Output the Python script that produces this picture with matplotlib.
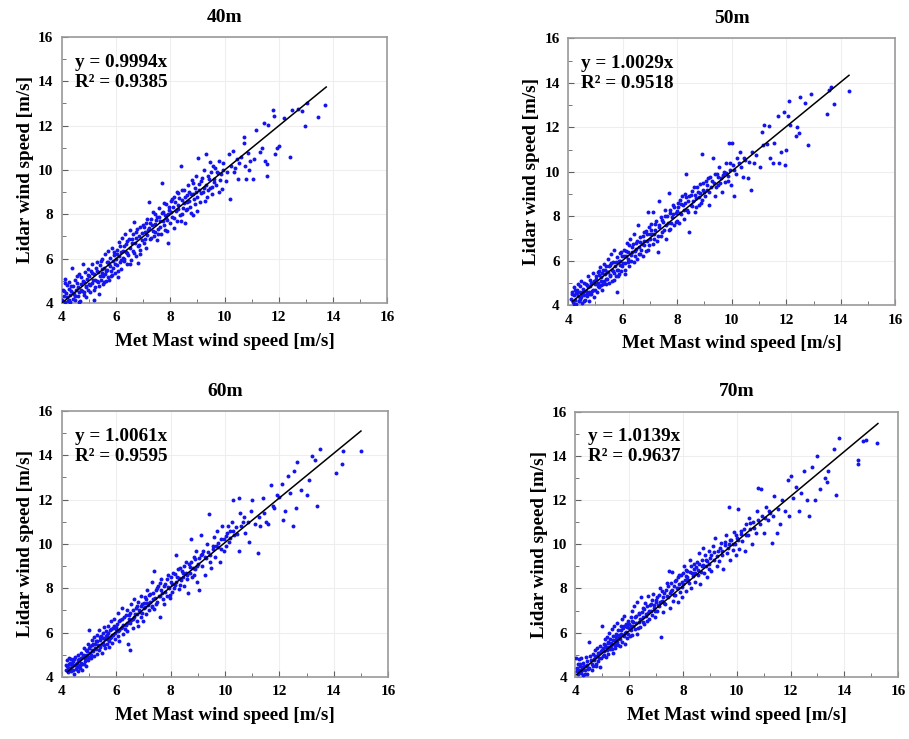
import matplotlib.pyplot as plt
from matplotlib.ticker import MultipleLocator

plt.rcParams['font.family'] = 'Liberation Serif'
plt.rcParams['font.weight'] = 'bold'

# panel titles and regression results
titles = ['40m', '50m', '60m', '70m']
slopes = [0.9994, 1.0029, 1.0061, 1.0139]
r2 = [0.9385, 0.9518, 0.9595, 0.9637]
line_start = [4.0, 4.15, 4.2, 4.05]
line_end = [13.75, 14.3, 15.0, 15.25]

# points (met mast, lidar)
pts40 = [
    (4.02,4.15),(4.05,4.6),(4.08,4.3),(4.1,5.1),(4.12,4.05),(4.15,4.45),(4.18,4.8),(4.2,4.25),(4.22,4.1),(4.25,4.65),
    (4.28,4.95),(4.3,4.35),(4.32,4.05),(4.35,4.55),(4.38,5.6),(4.4,4.2),(4.42,4.75),(4.45,4.4),(4.48,5.05),(4.5,4.15),
    (4.52,4.6),(4.55,4.9),(4.58,4.3),(4.6,4.7),(4.62,5.3),(4.65,4.5),(4.68,4.1),(4.7,4.85),(4.72,5.15),(4.75,4.55),
    (4.78,5.75),(4.8,4.35),(4.82,4.95),(4.85,5.4),(4.88,4.7),(4.9,4.25),(4.92,5.1),(4.95,4.6),(4.97,5.55),(4.99,4.85),
    (5.02,5.2),(5.05,4.5),(5.08,5.45),(5.1,4.9),(5.12,5.75),(5.15,5.05),(5.18,4.15),(5.2,5.3),(5.22,4.7),(5.25,5.6),
    (5.28,5.0),(5.3,5.85),(5.32,4.95),(5.35,5.4),(5.38,4.4),(5.4,5.2),(5.42,5.7),(5.45,5.05),(5.48,6.0),(5.5,5.35),
    (5.52,4.85),(5.55,5.6),(5.58,6.2),(5.6,5.3),(5.62,5.0),(5.65,5.85),(5.68,5.5),(5.7,6.35),(5.72,5.15),(5.75,5.75),
    (5.78,6.05),(5.8,5.45),(5.82,5.2),(5.85,6.5),(5.88,5.9),(5.9,5.6),(5.92,6.15),(5.95,5.35),(5.98,6.0),
    (6.02,5.7),(6.05,6.4),(6.08,5.15),(6.1,6.1),(6.12,6.75),(6.15,5.85),(6.18,6.3),(6.2,5.55),(6.22,6.95),(6.25,6.05),
    (6.28,6.55),(6.3,5.9),(6.32,7.1),(6.35,6.3),(6.4,5.75),(6.42,6.8),(6.45,6.15),(6.5,7.3),(6.52,6.5),(6.55,5.95),
    (6.6,6.9),(6.62,6.35),(6.65,7.65),(6.7,6.7),(6.72,6.1),(6.75,7.2),(6.8,6.55),(6.82,5.8),(6.85,7.0),(6.88,7.45),
    (6.9,6.4),(6.95,6.85),(6.98,7.5),
    (7.02,6.7),(7.05,7.2),(7.1,7.6),(7.12,6.5),(7.15,7.05),(7.2,8.55),(7.22,7.4),(7.25,6.9),(7.3,7.8),(7.35,7.25),
    (7.4,7.0),(7.42,8.0),(7.45,7.55),(7.5,6.85),(7.52,7.9),(7.55,7.35),(7.6,8.3),(7.62,7.7),(7.65,7.1),(7.7,9.4),
    (7.72,8.1),(7.75,7.5),(7.8,7.95),(7.82,7.3),(7.85,8.45),(7.88,7.75),(7.9,6.7),(7.95,8.2),(7.98,7.6),
    (8.02,8.6),(8.05,7.9),(8.1,8.35),(8.12,7.4),(8.15,8.8),(8.2,8.15),(8.25,7.7),(8.28,8.95),(8.3,8.4),(8.35,7.95),
    (8.4,10.2),(8.42,8.65),(8.45,8.0),(8.5,9.1),(8.52,8.5),(8.55,7.6),(8.6,8.85),(8.62,8.25),(8.65,9.3),(8.7,8.6),
    (8.75,8.05),(8.8,9.55),(8.82,8.9),(8.85,7.95),(8.9,9.2),(8.92,8.45),(8.95,9.75),(8.98,8.8),
    (9.02,10.55),(9.05,9.1),(9.1,8.55),(9.12,9.5),(9.2,9.0),(9.25,10.0),(9.3,10.7),(9.32,9.3),(9.35,8.8),(9.4,9.75),
    (9.45,10.35),(9.48,9.2),(9.5,9.9),(9.55,8.9),(9.6,9.6),(9.65,10.1),(9.7,9.3),(9.75,9.85),(9.8,10.4),(9.85,9.55),
    (9.9,9.15),(9.95,10.0),
    (10.05,9.5),(10.15,10.7),(10.2,8.7),(10.25,10.2),(10.3,10.85),(10.35,9.9),(10.45,10.5),(10.5,9.6),(10.6,10.6),
    (10.7,11.5),(10.72,11.2),(10.75,10.2),(10.8,9.6),(10.85,10.75),(10.95,10.4),
    (11.05,9.6),(11.1,10.5),(11.15,11.8),(11.3,10.8),(11.4,11.0),(11.45,12.1),(11.5,10.4),(11.55,9.75),(11.55,10.25),
    (11.6,12.05),(11.8,12.7),(11.82,12.45),(11.85,10.7),(11.95,11.0),(12.0,11.1),
    (12.2,12.35),(12.4,10.6),(12.5,12.7),(12.7,12.75),(12.85,12.65),(12.95,12.0),(13.05,13.0),(13.45,12.4),(13.7,12.95),
]
more40 = [
    (4.07,4.55),(4.13,4.9),(4.27,4.15),(4.33,4.75),(4.41,4.45),(4.47,4.3),(4.56,5.2),(4.63,4.05),(4.69,4.6),(4.77,5.0),
    (4.83,4.5),(4.91,4.75),(4.96,5.25),(5.04,4.8),(5.11,5.35),(5.17,4.6),(5.23,5.05),(5.29,5.45),(5.36,4.75),(5.43,5.9),
    (5.47,5.55),(5.53,5.2),(5.57,4.95),(5.63,5.45),(5.69,5.85),(5.74,5.05),(5.79,5.65),(5.86,5.25),(5.91,6.3),(5.97,5.75),
    (6.03,6.2),(6.07,5.45),(6.13,6.55),(6.19,5.95),(6.24,6.35),(6.29,6.0),(6.36,6.65),(6.41,6.25),(6.47,6.9),(6.53,5.75),
    (6.58,6.7),(6.63,7.1),(6.68,6.25),(6.73,6.95),(6.79,7.35),(6.84,6.6),(6.89,6.2),(6.94,7.15),(7.03,7.45),(7.08,6.9),
    (7.13,7.8),(7.18,7.3),(7.24,7.6),(7.28,6.95),(7.33,7.5),(7.38,8.1),(7.44,7.2),(7.48,7.75),(7.53,7.1),(7.58,7.9),
    (7.63,7.45),(7.68,8.05),(7.73,7.7),(7.78,8.5),(7.83,7.85),(7.87,7.25),(7.93,8.0),(7.97,8.35),(8.03,8.1),(8.08,8.7),
    (8.13,7.85),(8.18,8.55),(8.23,9.0),(8.27,8.25),(8.33,8.75),(8.38,7.7),(8.43,9.1),(8.48,8.3),(8.53,8.8),(8.58,8.2),
    (8.63,8.55),(8.68,9.0),(8.73,8.35),(8.78,8.9),(8.83,9.4),(8.88,8.7),(8.93,9.0),(8.97,8.15),(9.07,9.35),(9.13,8.95),
    (9.18,9.65),(9.23,9.2),(9.28,8.6),(9.38,9.1),(9.43,9.6),(9.53,9.25),(9.58,10.2),(9.63,9.45),(9.73,9.9),(9.78,9.0),
    (9.88,9.8),(9.93,10.3),(10.1,9.9),(10.4,10.1),(10.55,10.3),(10.9,10.0),
]

pts50 = [
    (4.12,4.3),(4.15,4.6),(4.18,4.15),(4.2,4.45),(4.22,4.8),(4.25,4.25),(4.28,4.55),(4.3,4.05),(4.32,4.7),(4.35,4.4),
    (4.38,4.95),(4.4,4.2),(4.42,4.6),(4.45,4.3),(4.48,5.1),(4.5,4.5),(4.52,4.1),(4.55,4.75),(4.58,4.45),(4.6,5.0),
    (4.62,4.25),(4.65,4.65),(4.68,4.9),(4.7,4.4),(4.72,5.3),(4.75,4.6),(4.78,4.2),(4.8,4.85),(4.82,5.15),(4.85,4.5),
    (4.88,5.0),(4.9,4.7),(4.92,5.45),(4.95,4.35),(4.98,4.95),
    (5.02,5.2),(5.05,4.6),(5.08,5.5),(5.1,5.0),(5.12,4.8),(5.15,5.35),(5.18,5.7),(5.2,4.9),(5.22,5.25),(5.25,4.7),
    (5.28,5.6),(5.3,5.1),(5.32,5.85),(5.35,5.4),(5.38,4.95),(5.4,5.75),(5.42,5.2),(5.45,6.1),(5.48,5.5),(5.5,5.0),
    (5.52,5.8),(5.55,5.35),(5.58,6.3),(5.6,5.6),(5.62,5.1),(5.65,5.95),(5.68,5.45),(5.7,6.5),(5.72,5.75),(5.75,5.3),
    (5.78,6.15),(5.8,4.6),(5.82,5.6),(5.85,6.0),(5.88,5.4),(5.9,6.35),(5.92,5.8),(5.95,5.55),(5.98,6.2),
    (6.02,5.9),(6.05,6.5),(6.08,5.6),(6.1,5.4),(6.12,6.2),(6.15,6.8),(6.18,5.95),(6.2,6.4),(6.25,5.75),(6.28,7.0),
    (6.3,6.25),(6.35,6.6),(6.4,5.95),(6.42,7.2),(6.45,6.45),(6.5,6.8),(6.52,6.1),(6.55,7.6),(6.6,6.6),(6.62,6.3),
    (6.65,7.05),(6.7,6.75),(6.75,6.2),(6.78,7.3),(6.8,6.9),(6.85,6.45),(6.9,7.2),(6.92,8.2),(6.95,6.7),(6.98,7.5),
    (7.02,7.0),(7.05,7.4),(7.1,6.75),(7.12,8.2),(7.15,7.2),(7.2,7.65),(7.25,6.9),(7.3,6.4),(7.32,7.5),(7.35,8.7),
    (7.4,7.1),(7.45,7.85),(7.5,7.4),(7.55,8.0),(7.6,7.0),(7.65,7.7),(7.7,9.05),(7.72,8.3),(7.75,7.45),(7.8,7.95),
    (7.85,8.5),(7.9,7.6),(7.95,8.15),(7.98,7.8),
    (8.02,8.4),(8.05,7.7),(8.1,8.75),(8.15,8.1),(8.2,8.5),(8.25,7.9),(8.3,9.0),(8.32,9.9),(8.35,8.3),(8.4,8.7),
    (8.45,7.3),(8.5,8.95),(8.55,8.45),(8.6,9.3),(8.65,8.2),(8.7,8.8),(8.75,9.1),(8.8,8.5),(8.85,9.45),(8.9,10.8),
    (8.92,8.75),(8.95,9.2),
    (9.02,8.9),(9.05,9.6),(9.1,9.2),(9.15,8.5),(9.2,9.75),(9.25,9.3),(9.3,10.6),(9.35,9.5),(9.4,8.9),(9.45,9.9),
    (9.5,9.4),(9.55,10.2),(9.6,9.7),(9.65,9.1),(9.7,10.0),(9.75,9.55),(9.8,10.4),(9.85,9.8),(9.9,11.3),(9.95,10.1),
    (9.98,9.4),
    (10.02,11.3),(10.05,10.3),(10.1,8.9),(10.15,9.9),(10.2,10.6),(10.3,10.9),(10.35,10.2),(10.4,9.75),(10.5,10.55),
    (10.6,9.7),(10.7,9.2),(10.75,10.9),(10.8,10.4),(10.9,10.75),
    (11.05,10.2),(11.1,11.8),(11.15,11.2),(11.2,12.1),(11.3,11.25),(11.35,12.05),(11.4,10.6),(11.5,10.4),(11.55,11.3),
    (11.7,12.5),(11.75,10.4),(11.8,10.9),(11.9,12.7),(11.95,10.3),(12.0,11.0),
    (12.05,12.5),(12.1,13.2),(12.15,12.1),(12.35,11.6),(12.4,12.0),(12.45,11.75),(12.5,13.35),(12.7,13.1),(12.8,11.2),
    (12.9,13.5),(13.5,12.6),(13.55,13.7),(13.65,13.8),(13.75,13.05),(14.3,13.65),
]
more50 = [
    (4.14,4.5),(4.23,4.05),(4.27,4.7),(4.34,4.55),(4.39,4.2),(4.44,4.85),(4.49,4.35),(4.54,4.6),(4.59,4.2),(4.64,4.95),
    (4.69,4.55),(4.74,4.8),(4.79,4.5),(4.84,5.0),(4.89,4.65),(4.94,5.1),(4.99,4.7),(5.04,5.3),(5.09,4.85),(5.14,5.55),
    (5.19,5.1),(5.24,5.45),(5.29,4.95),(5.34,5.6),(5.39,5.2),(5.44,5.5),(5.49,5.75),(5.54,5.3),(5.59,5.9),(5.64,5.55),
    (5.69,5.15),(5.74,5.95),(5.79,5.6),(5.84,5.3),(5.89,6.0),(5.94,6.4),(5.99,5.75),(6.04,6.2),(6.09,5.9),(6.14,6.45),
    (6.19,6.1),(6.24,6.7),(6.29,6.0),(6.34,6.4),(6.39,6.75),(6.44,6.2),(6.49,6.55),(6.54,6.9),(6.59,6.3),(6.64,6.85),
    (6.69,6.5),(6.74,7.1),(6.79,6.7),(6.84,7.35),(6.89,6.9),(6.94,6.5),(6.99,7.2),(7.04,7.65),(7.09,7.2),(7.14,7.0),
    (7.19,7.4),(7.24,7.8),(7.29,7.1),(7.34,7.6),(7.39,7.95),(7.44,7.3),(7.49,7.75),(7.54,8.3),(7.59,7.6),(7.64,8.0),
    (7.69,7.4),(7.74,8.15),(7.79,7.7),(7.84,8.1),(7.89,8.4),(7.94,7.75),(7.99,8.25),(8.04,8.6),(8.09,8.15),(8.14,8.55),
    (8.19,8.9),(8.24,8.3),(8.29,8.6),(8.34,8.85),(8.39,8.2),(8.44,8.9),(8.49,8.5),(8.54,9.15),(8.59,8.7),(8.64,8.95),
    (8.69,8.4),(8.74,9.3),(8.79,8.85),(8.84,9.05),(8.89,8.6),(8.94,9.5),(8.99,9.1),(9.08,9.4),(9.13,9.7),(9.18,9.1),
    (9.28,9.6),(9.38,9.9),(9.43,9.3),(9.48,9.75),(9.58,9.5),(9.68,9.85),(9.78,9.95),(9.88,9.6),(9.93,10.4),(10.08,10.1),
    (10.25,10.4),(10.45,10.6),(10.65,10.45),
]

pts60 = [
    (4.15,4.3),(4.18,4.75),(4.2,4.5),(4.22,4.2),(4.25,4.85),(4.28,4.4),(4.3,4.65),(4.32,4.25),(4.35,4.8),(4.38,4.5),
    (4.4,4.3),(4.42,4.7),(4.45,4.15),(4.48,4.55),(4.5,4.9),(4.52,4.35),(4.55,4.65),(4.58,4.25),(4.6,5.0),(4.62,4.5),
    (4.65,4.8),(4.68,4.4),(4.7,5.1),(4.72,4.65),(4.75,4.3),(4.78,4.95),(4.8,5.3),(4.82,4.6),(4.85,4.85),(4.88,5.2),
    (4.9,4.5),(4.92,5.0),(4.95,5.5),(4.98,4.75),
    (5.0,6.1),(5.02,5.1),(5.05,5.4),(5.08,4.85),(5.1,5.65),(5.12,5.2),(5.15,5.5),(5.18,4.95),(5.2,5.8),(5.22,5.3),
    (5.25,5.6),(5.28,5.05),(5.3,5.9),(5.32,5.45),(5.35,5.2),(5.38,6.1),(5.4,5.65),(5.42,5.35),(5.45,5.85),(5.48,5.1),
    (5.5,6.0),(5.52,5.55),(5.55,6.25),(5.58,5.7),(5.6,5.3),(5.62,6.05),(5.65,5.5),(5.68,5.9),(5.7,6.3),(5.72,5.6),
    (5.75,5.35),(5.78,6.1),(5.8,5.8),(5.82,6.5),(5.85,5.55),(5.88,6.2),(5.9,5.9),(5.92,6.6),(5.95,5.7),(5.98,6.15),
    (6.02,6.4),(6.05,5.85),(6.08,6.9),(6.1,6.1),(6.12,5.6),(6.15,6.55),(6.2,6.25),(6.22,7.1),(6.25,5.95),(6.3,6.7),
    (6.35,6.35),(6.38,7.0),(6.4,6.05),(6.45,5.5),(6.48,6.8),(6.5,5.2),(6.52,6.45),(6.55,7.3),(6.6,6.6),(6.62,6.2),
    (6.65,7.5),(6.7,6.85),(6.75,6.5),(6.78,7.2),(6.8,6.3),(6.85,7.0),(6.9,7.65),(6.92,6.7),(6.95,7.3),(6.98,6.5),
    (7.02,7.1),(7.05,7.6),(7.1,6.85),(7.12,7.9),(7.15,7.35),(7.2,7.0),(7.25,7.75),(7.3,7.2),(7.32,8.3),(7.35,7.5),
    (7.38,8.8),(7.4,7.05),(7.45,7.9),(7.5,7.4),(7.55,8.1),(7.6,6.7),(7.62,7.65),(7.65,8.4),(7.7,7.8),(7.75,7.3),
    (7.8,8.2),(7.85,7.65),(7.9,8.6),(7.95,8.0),(7.98,7.55),
    (8.02,8.3),(8.05,7.85),(8.1,8.7),(8.15,8.15),(8.2,9.5),(8.25,8.5),(8.3,7.95),(8.35,8.9),(8.4,8.35),(8.45,8.7),
    (8.5,8.1),(8.55,9.2),(8.6,8.6),(8.65,7.8),(8.7,8.95),(8.75,10.2),(8.8,8.5),(8.85,9.4),(8.9,8.85),(8.95,9.7),
    (8.98,8.3),
    (9.02,9.1),(9.05,7.9),(9.1,9.5),(9.12,10.4),(9.15,9.0),(9.2,9.7),(9.25,8.6),(9.3,9.35),(9.35,10.0),(9.4,11.35),
    (9.45,9.5),(9.5,8.9),(9.55,9.9),(9.6,10.3),(9.65,9.4),(9.7,10.6),(9.75,9.85),(9.8,9.2),(9.85,10.2),(9.9,10.8),
    (9.95,9.7),
    (10.02,10.35),(10.05,9.9),(10.1,10.8),(10.15,10.1),(10.2,10.6),(10.25,11.0),(10.3,12.0),(10.35,10.4),(10.4,10.75),
    (10.5,9.7),(10.52,12.05),(10.55,11.4),(10.6,10.8),(10.7,11.2),(10.75,10.5),(10.85,11.0),(10.9,10.1),(10.95,11.5),
    (11.0,12.0),(11.1,10.9),(11.2,9.6),(11.25,11.2),(11.3,10.8),(11.4,12.05),(11.45,11.4),(11.5,11.0),(11.6,10.9),
    (11.7,12.65),(11.75,11.7),(11.8,11.6),(11.9,12.2),(12.0,12.1),
    (12.1,12.7),(12.15,11.1),(12.2,11.5),(12.3,13.05),(12.4,12.3),(12.5,10.8),(12.55,13.3),(12.6,11.6),(12.65,13.7),
    (12.8,12.45),(13.0,12.2),(13.1,12.9),(13.2,13.95),(13.3,13.8),(13.4,11.7),(13.5,14.3),(14.1,13.2),(14.3,13.6),
    (14.35,14.2),(15.0,14.2),
]
more60 = [
    (4.16,4.55),(4.21,4.35),(4.26,4.6),(4.31,4.4),(4.36,4.6),(4.41,4.55),(4.46,4.8),(4.51,4.6),(4.56,4.45),(4.61,4.75),
    (4.66,4.55),(4.71,4.85),(4.76,4.6),(4.81,5.0),(4.86,4.7),(4.91,5.15),(4.96,4.9),(5.01,5.3),(5.06,5.0),(5.11,5.45),
    (5.16,5.15),(5.21,5.5),(5.26,5.25),(5.31,5.6),(5.36,5.4),(5.41,5.8),(5.46,5.5),(5.51,5.75),(5.56,5.45),(5.61,5.85),
    (5.66,5.7),(5.71,6.0),(5.76,5.75),(5.81,6.15),(5.86,5.9),(5.91,6.3),(5.96,6.0),(6.01,6.25),(6.06,6.05),(6.11,6.5),
    (6.16,6.2),(6.21,6.6),(6.26,6.35),(6.31,6.15),(6.36,6.8),(6.41,6.45),(6.46,6.6),(6.51,6.9),(6.56,6.55),(6.61,7.0),
    (6.66,6.7),(6.71,7.1),(6.76,6.85),(6.81,7.4),(6.86,6.95),(6.91,7.2),(6.96,6.9),(7.01,7.35),(7.06,7.15),(7.11,7.5),
    (7.16,7.25),(7.21,7.7),(7.26,7.4),(7.31,7.15),(7.36,7.8),(7.41,7.55),(7.46,7.3),(7.51,8.0),(7.56,7.65),(7.61,8.25),
    (7.66,7.9),(7.71,7.5),(7.76,8.1),(7.81,7.85),(7.86,8.4),(7.91,8.05),(7.96,7.7),(8.01,8.5),(8.06,8.2),(8.11,8.0),
    (8.16,8.65),(8.21,8.3),(8.26,8.85),(8.31,8.45),(8.36,8.15),(8.41,8.8),(8.46,8.5),(8.51,9.0),(8.56,8.7),(8.61,8.4),
    (8.66,9.1),(8.71,8.7),(8.76,9.2),(8.81,8.9),(8.86,8.6),(8.91,9.3),(8.96,9.0),(9.06,9.35),(9.16,9.55),(9.26,9.4),
    (9.36,9.65),(9.46,9.2),(9.56,9.75),(9.66,9.9),(9.76,10.05),(9.86,9.75),(9.96,10.2),(10.06,10.5),(10.18,10.25),
    (10.28,10.6),(10.45,10.45),(10.65,11.0),
]

pts70 = [
    (4.02,4.85),(4.05,4.4),(4.08,4.15),(4.1,4.6),(4.12,4.3),(4.15,4.8),(4.18,4.5),(4.2,4.2),(4.22,4.85),(4.25,4.45),
    (4.28,4.1),(4.3,4.65),(4.35,4.3),(4.38,4.9),(4.4,4.5),(4.42,4.15),(4.45,4.7),(4.5,5.6),(4.52,4.4),(4.55,4.95),
    (4.6,4.6),(4.62,4.3),(4.65,5.05),(4.7,4.75),(4.72,5.2),(4.75,4.5),(4.8,4.95),(4.82,5.3),(4.85,4.7),(4.88,5.1),
    (4.9,4.45),(4.92,5.4),(4.95,4.85),(4.98,5.2),
    (5.0,6.3),(5.02,4.95),(5.05,5.5),(5.08,5.15),(5.1,5.7),(5.12,4.9),(5.15,5.35),(5.18,5.8),(5.2,5.05),(5.22,5.55),
    (5.25,6.0),(5.28,5.25),(5.3,5.7),(5.32,5.4),(5.35,6.15),(5.38,5.1),(5.4,5.85),(5.42,5.5),(5.45,6.3),(5.48,5.3),
    (5.5,5.95),(5.52,5.65),(5.55,6.45),(5.58,5.45),(5.6,6.1),(5.62,5.8),(5.65,5.4),(5.68,6.3),(5.7,5.95),(5.72,6.6),
    (5.75,5.6),(5.78,6.2),(5.8,5.85),(5.82,6.75),(5.85,5.5),(5.88,6.4),(5.9,6.05),(5.92,5.75),(5.95,6.55),(5.98,6.2),
    (6.02,5.85),(6.05,6.7),(6.08,6.3),(6.1,7.0),(6.12,5.9),(6.15,6.5),(6.18,7.2),(6.2,6.15),(6.25,6.75),(6.28,5.95),
    (6.3,7.4),(6.35,6.5),(6.38,6.9),(6.4,6.25),(6.45,7.6),(6.5,6.7),(6.52,7.1),(6.55,6.4),(6.6,7.35),(6.62,6.85),
    (6.65,6.55),(6.7,7.65),(6.72,7.0),(6.75,6.6),(6.8,7.3),(6.85,6.8),(6.9,7.75),(6.92,7.1),(6.95,6.7),(6.98,7.4),
    (7.02,7.0),(7.05,7.6),(7.1,7.2),(7.15,8.0),(7.2,5.8),(7.22,7.45),(7.25,6.95),(7.3,7.8),(7.35,7.3),(7.4,8.25),
    (7.45,7.6),(7.48,8.8),(7.5,7.1),(7.55,7.9),(7.6,8.75),(7.62,7.45),(7.65,8.1),(7.7,7.7),(7.75,8.4),(7.8,7.4),
    (7.82,8.0),(7.85,8.6),(7.9,7.85),(7.95,8.3),(7.98,7.6),
    (8.02,8.2),(8.05,9.0),(8.1,8.55),(8.12,7.9),(8.15,8.8),(8.2,8.4),(8.25,9.3),(8.3,8.0),(8.35,8.7),(8.4,9.1),
    (8.45,8.3),(8.5,8.95),(8.55,8.6),(8.6,9.6),(8.65,8.2),(8.7,9.0),(8.75,9.85),(8.8,8.7),(8.85,9.3),(8.9,8.5),
    (8.95,9.7),(8.98,9.1),
    (9.02,9.4),(9.05,8.8),(9.1,9.9),(9.15,9.3),(9.2,10.3),(9.25,9.0),(9.3,9.7),(9.35,9.25),(9.4,10.05),(9.45,9.5),
    (9.5,8.9),(9.55,9.95),(9.6,10.4),(9.65,9.6),(9.7,11.7),(9.72,10.0),(9.75,9.3),(9.8,10.2),(9.85,9.75),(9.9,10.55),
    (9.95,10.0),(9.98,9.5),
    (10.02,10.3),(10.05,11.6),(10.1,9.8),(10.15,10.6),(10.2,10.15),(10.3,9.7),(10.35,10.9),(10.4,10.4),(10.45,11.2),
    (10.5,10.7),(10.55,10.0),(10.6,11.0),(10.7,10.5),(10.75,11.5),(10.8,12.55),(10.85,10.9),(10.92,12.5),(10.95,11.3),
    (11.0,10.5),(11.1,11.7),(11.15,11.1),(11.2,11.5),(11.3,10.05),(11.35,11.3),(11.4,12.2),(11.5,10.5),(11.55,11.6),
    (11.6,10.9),(11.7,12.0),(11.8,11.5),(11.9,12.9),(11.95,11.3),
    (12.0,13.1),(12.1,12.1),(12.2,12.6),(12.3,11.5),(12.4,12.3),(12.5,13.3),(12.6,12.0),(12.7,11.3),(12.8,13.5),
    (12.9,12.0),(13.0,14.0),(13.1,12.5),(13.3,13.0),(13.35,12.8),(13.4,13.3),(13.6,14.3),(13.7,12.25),(13.8,14.8),
    (14.5,13.8),(14.52,13.65),(14.7,14.65),(14.8,14.7),(15.2,14.6),
]
more70 = [
    (4.06,4.25),(4.16,4.6),(4.24,4.3),(4.32,4.5),(4.37,4.15),(4.44,4.55),(4.48,4.35),(4.57,4.75),(4.64,4.5),(4.68,4.8),
    (4.74,4.95),(4.78,4.6),(4.84,5.1),(4.89,4.85),(4.94,5.15),(5.01,5.3),(5.06,5.0),(5.11,5.45),(5.16,5.2),(5.21,5.6),
    (5.26,5.35),(5.31,5.55),(5.36,5.25),(5.41,5.65),(5.46,5.45),(5.51,5.8),(5.56,5.6),(5.61,5.9),(5.66,5.7),(5.71,6.1),
    (5.76,5.9),(5.81,6.3),(5.86,6.0),(5.91,6.25),(5.96,5.95),(6.01,6.4),(6.06,6.1),(6.11,6.55),(6.16,6.3),(6.21,6.7),
    (6.26,6.45),(6.31,6.2),(6.36,6.85),(6.41,6.6),(6.46,6.95),(6.51,6.5),(6.56,7.05),(6.61,6.75),(6.66,7.2),(6.71,6.9),
    (6.76,7.25),(6.81,7.0),(6.86,7.5),(6.91,7.25),(6.96,7.0),(7.01,7.5),(7.06,7.25),(7.11,7.7),(7.16,7.4),(7.21,7.9),
    (7.26,7.6),(7.31,7.35),(7.36,7.95),(7.41,7.65),(7.46,8.1),(7.51,7.8),(7.56,8.25),(7.61,7.95),(7.66,7.7),(7.71,8.35),
    (7.76,8.0),(7.81,8.5),(7.86,8.2),(7.91,8.6),(7.96,8.05),(8.01,8.7),(8.06,8.4),(8.11,8.85),(8.16,8.5),(8.21,8.25),
    (8.26,8.75),(8.31,9.0),(8.36,8.55),(8.41,8.9),(8.46,8.7),(8.51,9.2),(8.56,8.85),(8.61,9.1),(8.66,8.75),(8.71,9.3),
    (8.76,9.05),(8.81,9.5),(8.86,9.0),(8.91,9.25),(8.96,8.9),(9.06,9.5),(9.16,9.65),(9.26,9.45),(9.36,9.85),(9.46,9.7),
    (9.56,10.1),(9.66,9.85),(9.76,10.2),(9.86,10.0),(9.96,10.4),(10.06,10.2),(10.16,10.45),(10.26,10.7),(10.36,10.4),
    (10.5,10.95),(10.65,10.75),(10.8,11.1),(11.05,11.2),(11.25,11.4),
]

all_pts = [pts40 + more40, pts50 + more50, pts60 + more60, pts70 + more70]

# axes boxes in figure fractions [left, bottom, width, height]
boxes = [
    [0.068, 0.590, 0.358, 0.360],
    [0.625, 0.587, 0.360, 0.361],
    [0.068, 0.084, 0.359, 0.360],
    [0.633, 0.084, 0.355, 0.359],
]

fig = plt.figure(figsize=(9.09, 7.39), dpi=100)

for i in range(4):
    ax = fig.add_axes(boxes[i])
    xs = [p[0] for p in all_pts[i]]
    ys = [p[1] for p in all_pts[i]]
    ax.scatter(xs, ys, s=8, color='#1414ee', marker='o', linewidths=0, zorder=3)
    x0, x1 = line_start[i], line_end[i]
    ax.plot([x0, x1], [slopes[i] * x0, slopes[i] * x1], color='black', lw=1.1, zorder=4)

    ax.set_xlim(4, 16)
    ax.set_ylim(4, 16)
    ax.xaxis.set_major_locator(MultipleLocator(2))
    ax.yaxis.set_major_locator(MultipleLocator(2))
    ax.xaxis.set_minor_locator(MultipleLocator(1))
    ax.yaxis.set_minor_locator(MultipleLocator(1))
    ax.tick_params(which='both', direction='in', top=False, right=False,
                   color='#606060', labelsize=11)
    ax.tick_params(which='major', length=4, pad=6)
    ax.tick_params(which='minor', length=3)
    ax.grid(True, which='major', color='#eeeeee', lw=0.8, zorder=0)
    for sp in ax.spines.values():
        sp.set_color('#9a9a9a')
        sp.set_linewidth(1.2)

    ax.set_title(titles[i], fontsize=14, fontweight='bold', pad=11)
    ax.set_xlabel('Met Mast wind speed [m/s]', fontsize=13.7, fontweight='bold', labelpad=6)
    ax.set_ylabel('Lidar wind speed [m/s]', fontsize=13.7, fontweight='bold', labelpad=3)

    ax.text(0.04, 0.905, 'y = %.4fx' % slopes[i], transform=ax.transAxes,
            fontsize=13.8, fontweight='bold', va='center', ha='left')
    ax.text(0.04, 0.83, 'R² = %.4f' % r2[i], transform=ax.transAxes,
            fontsize=13.8, fontweight='bold', va='center', ha='left')

fig.savefig('out.png', dpi=100)
